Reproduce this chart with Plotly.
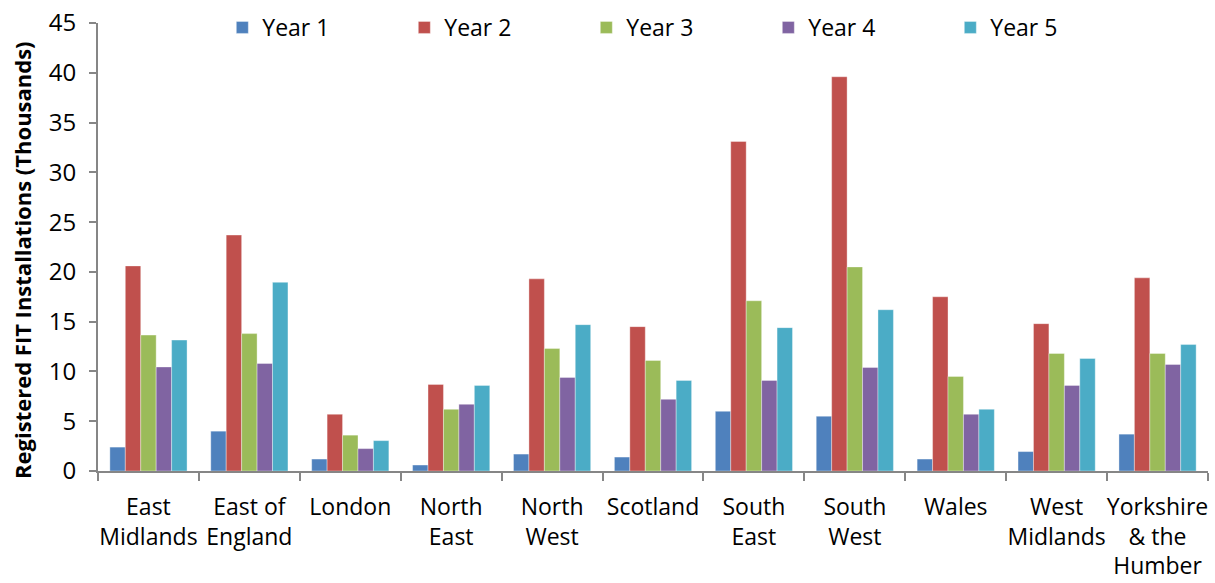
import plotly.graph_objects as go

regions = [
    "East<br>Midlands", "East of<br>England", "London", "North<br>East", "North<br>West",
    "Scotland", "South<br>East", "South<br>West", "Wales", "West<br>Midlands",
    "Yorkshire<br>& the<br>Humber",
]

year1 = [2.4, 4.0, 1.2, 0.6, 1.7, 1.4, 6.0, 5.5, 1.2, 1.95, 3.7]
year2 = [20.6, 23.7, 5.7, 8.7, 19.3, 14.5, 33.1, 39.6, 17.5, 14.8, 19.4]
year3 = [13.65, 13.8, 3.6, 6.2, 12.3, 11.1, 17.1, 20.5, 9.5, 11.8, 11.8]
year4 = [10.45, 10.8, 2.25, 6.7, 9.4, 7.2, 9.1, 10.4, 5.7, 8.6, 10.7]
year5 = [13.15, 18.95, 3.05, 8.6, 14.7, 9.1, 14.4, 16.2, 6.2, 11.3, 12.7]

series_names = ["Year 1", "Year 2", "Year 3", "Year 4", "Year 5"]
series_values = [year1, year2, year3, year4, year5]
colors = ["#4F81BD", "#C0504D", "#9BBB59", "#8064A2", "#4BACC6"]

y_ticks = [0, 5, 10, 15, 20, 25, 30, 35, 40, 45]

fig = go.Figure()
for name, vals, col in zip(series_names, series_values, colors):
    fig.add_trace(go.Bar(
        x=regions, y=vals, name=name,
        marker=dict(color=col, line=dict(color="rgba(255,255,255,0.6)", width=0.6)),
    ))

axis_color = "#868686"
fig.update_layout(
    width=1215, height=583,
    barmode="group", bargap=0.235, bargroupgap=0,
    plot_bgcolor="white", paper_bgcolor="white",
    font=dict(family="Open Sans", size=23, color="#000000"),
    margin=dict(l=98, r=7, t=23, b=112, autoexpand=False),
    legend=dict(
        orientation="h", x=0.112, y=0.99, xanchor="left", yanchor="middle",
        entrywidth=137, entrywidthmode="pixels",
        font=dict(size=23), bgcolor="rgba(0,0,0,0)",
    ),
    xaxis=dict(
        showline=True, linecolor=axis_color, linewidth=2,
        ticks="outside", tickson="boundaries", ticklen=8, tickcolor=axis_color, tickwidth=2,
        showgrid=False, tickangle=0, automargin=False, ticklabelstandoff=14,
    ),
    yaxis=dict(
        range=[0, 45], tickvals=y_ticks,
        showline=True, linecolor=axis_color, linewidth=2,
        ticks="outside", ticklen=7, tickcolor=axis_color, tickwidth=2,
        showgrid=False, zeroline=False, automargin=False, ticklabelstandoff=8,
        tickfont=dict(size=24),
    ),
    annotations=[dict(
        text="<b>Registered FIT Installations (Thousands)</b>",
        textangle=-90, font=dict(size=22),
        xref="paper", yref="paper", x=-0.068, y=0.47,
        xanchor="center", yanchor="middle", showarrow=False,
    )],
)

fig.write_html("out.html")
